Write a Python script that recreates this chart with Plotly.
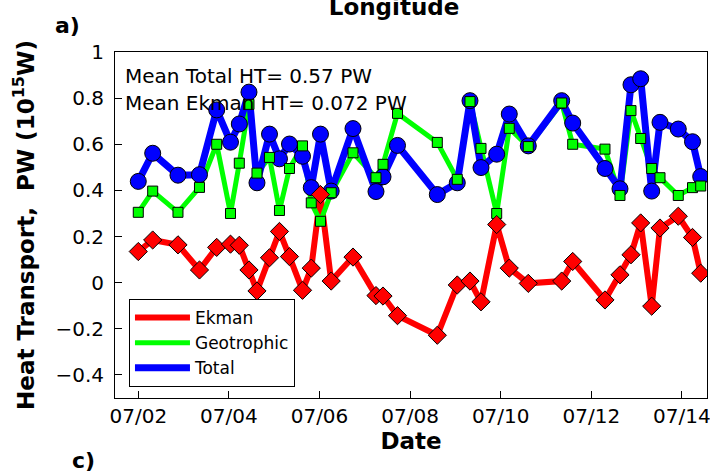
import plotly.graph_objects as go

# sample times (July)
dates = [
    "2005-07-02 00:00", "2005-07-02 07:38", "2005-07-02 21:02", "2005-07-03 08:25",
    "2005-07-03 17:32", "2005-07-04 00:51", "2005-07-04 05:31", "2005-07-04 10:39",
    "2005-07-04 14:53", "2005-07-04 21:31", "2005-07-05 02:48", "2005-07-05 08:06",
    "2005-07-05 15:00", "2005-07-05 19:39", "2005-07-06 00:32", "2005-07-06 06:12",
    "2005-07-06 17:45", "2005-07-07 05:56", "2005-07-07 09:39", "2005-07-07 17:20",
    "2005-07-08 14:25", "2005-07-09 01:00", "2005-07-09 07:44", "2005-07-09 13:34",
    "2005-07-09 21:53", "2005-07-10 04:33", "2005-07-10 14:37", "2005-07-11 08:19",
    "2005-07-11 14:09", "2005-07-12 07:15", "2005-07-12 15:12", "2005-07-12 21:02",
    "2005-07-13 02:10", "2005-07-13 08:00", "2005-07-13 12:24", "2005-07-13 22:05",
    "2005-07-14 05:37", "2005-07-14 09:58",
]

# heat transport, PW
total = [
    0.439, 0.561, 0.466, 0.468, 0.749, 0.609, 0.688, 0.826, 0.433, 0.644,
    0.537, 0.601, 0.548, 0.412, 0.644, 0.397, 0.668, 0.395, 0.459, 0.595,
    0.382, 0.433, 0.789, 0.499, 0.557, 0.731, 0.593, 0.789, 0.692, 0.495,
    0.407, 0.858, 0.884, 0.397, 0.695, 0.666, 0.611, 0.460,
]
geostrophic = [
    0.305, 0.397, 0.305, 0.413, 0.600, 0.300, 0.518, 0.773, 0.475, 0.543,
    0.313, 0.495, 0.593, 0.346, 0.266, 0.390, 0.563, 0.455, 0.513, 0.734,
    0.608, 0.448, 0.785, 0.582, 0.300, 0.669, 0.590, 0.779, 0.600, 0.579,
    0.378, 0.746, 0.625, 0.495, 0.455, 0.378, 0.412, 0.419,
]
ekman = [
    0.135, 0.185, 0.164, 0.055, 0.153, 0.167, 0.162, 0.055, -0.036, 0.108,
    0.222, 0.113, -0.033, 0.063, 0.382, 0.007, 0.111, -0.056, -0.058, -0.143,
    -0.228, -0.010, 0.007, -0.083, 0.252, 0.063, -0.003, 0.007, 0.092, -0.075,
    0.034, 0.121, 0.259, -0.102, 0.237, 0.288, 0.196, 0.041,
]

x_range = ["2005-07-01 11:40", "2005-07-14 13:18"]
y_range = [-0.5, 1.0]
y_ticks = [-0.4, -0.2, 0, 0.2, 0.4, 0.6, 0.8, 1]

RED = "#ff0000"
GREEN = "#00ff00"
BLUE = "#0000ff"
FONT = "DejaVu Sans"

fig = go.Figure()

# lines first (these carry the legend)
fig.add_trace(go.Scatter(x=dates, y=ekman, mode="lines", name="Ekman",
                         line=dict(color=RED, width=6)))
fig.add_trace(go.Scatter(x=dates, y=geostrophic, mode="lines", name="Geotrophic",
                         line=dict(color=GREEN, width=5)))
fig.add_trace(go.Scatter(x=dates, y=total, mode="lines", name="Total",
                         line=dict(color=BLUE, width=7)))

# markers on top
fig.add_trace(go.Scatter(x=dates, y=total, mode="markers", showlegend=False,
                         marker=dict(symbol="circle", size=16, color=BLUE,
                                     line=dict(color="black", width=1))))
fig.add_trace(go.Scatter(x=dates, y=geostrophic, mode="markers", showlegend=False,
                         marker=dict(symbol="square", size=10, color=GREEN,
                                     line=dict(color="black", width=1))))
fig.add_trace(go.Scatter(x=dates, y=ekman, mode="markers", showlegend=False,
                         marker=dict(symbol="diamond", size=14, color=RED,
                                     line=dict(color="black", width=1))))

axis_style = dict(showline=True, linecolor="black", linewidth=1, mirror=True,
                  showgrid=False, zeroline=False, ticks="inside", ticklen=7,
                  tickcolor="black", automargin=False, ticklabeloverflow="allow",
                  tickfont=dict(family=FONT, size=20, color="black"))

fig.update_xaxes(
    range=x_range, tickformat="%m/%d", dtick=2 * 86400000, tick0="2005-07-02",
    title=dict(text="Date", standoff=2,
               font=dict(family=FONT, size=23, color="black", weight="bold")),
    **axis_style,
)
fig.update_yaxes(
    range=y_range, tickvals=y_ticks,
    ticktext=[f"{v:g}".replace("-", "\u2212") for v in y_ticks],
    ticklabelstandoff=6,
    title=dict(text="Heat Transport,  PW (10<sup>15</sup>W)", standoff=14,
               font=dict(family=FONT, size=23, color="black", weight="bold")),
    **axis_style,
)

fig.update_layout(
    width=710, height=475,
    margin=dict(l=115, r=3, t=52, b=77, autoexpand=False),
    paper_bgcolor="white", plot_bgcolor="white",
    font=dict(family=FONT, color="black"),
    title=dict(text="Longitude", x=0.555, xanchor="center", y=0.985, yanchor="middle",
               xref="container", yref="container", automargin=False,
               font=dict(family=FONT, size=23, color="black", weight="bold")),
    legend=dict(x=0.0236, y=0.286, xanchor="left", yanchor="top",
                bgcolor="white", bordercolor="black", borderwidth=1,
                font=dict(family=FONT, size=17, color="black"),
                itemwidth=55, entrywidth=148, tracegroupgap=0),
    showlegend=True,
)

fig.add_annotation(text="Mean Total HT= 0.57 PW", xref="paper", yref="paper",
                   x=0.0135, y=0.932, xanchor="left", yanchor="middle", showarrow=False,
                   font=dict(family=FONT, size=20, color="black"))
fig.add_annotation(text="Mean Ekman HT= 0.072 PW", xref="paper", yref="paper",
                   x=0.0135, y=0.854, xanchor="left", yanchor="middle", showarrow=False,
                   font=dict(family=FONT, size=20, color="black"))
fig.add_annotation(text="a)", xref="paper", yref="paper", x=-0.081, y=1.078,
                   xanchor="center", yanchor="middle", showarrow=False,
                   font=dict(family=FONT, size=22, color="black", weight="bold"))
fig.add_annotation(text="c)", xref="paper", yref="paper", x=-0.054, y=-0.18,
                   xanchor="center", yanchor="middle", showarrow=False,
                   font=dict(family=FONT, size=22, color="black", weight="bold"))

# page body has a default margin; drop it so the figure sits at the window corner
fig.write_html("out.html", config={"displayModeBar": False},
               post_script="document.body.style.margin = '0';")
